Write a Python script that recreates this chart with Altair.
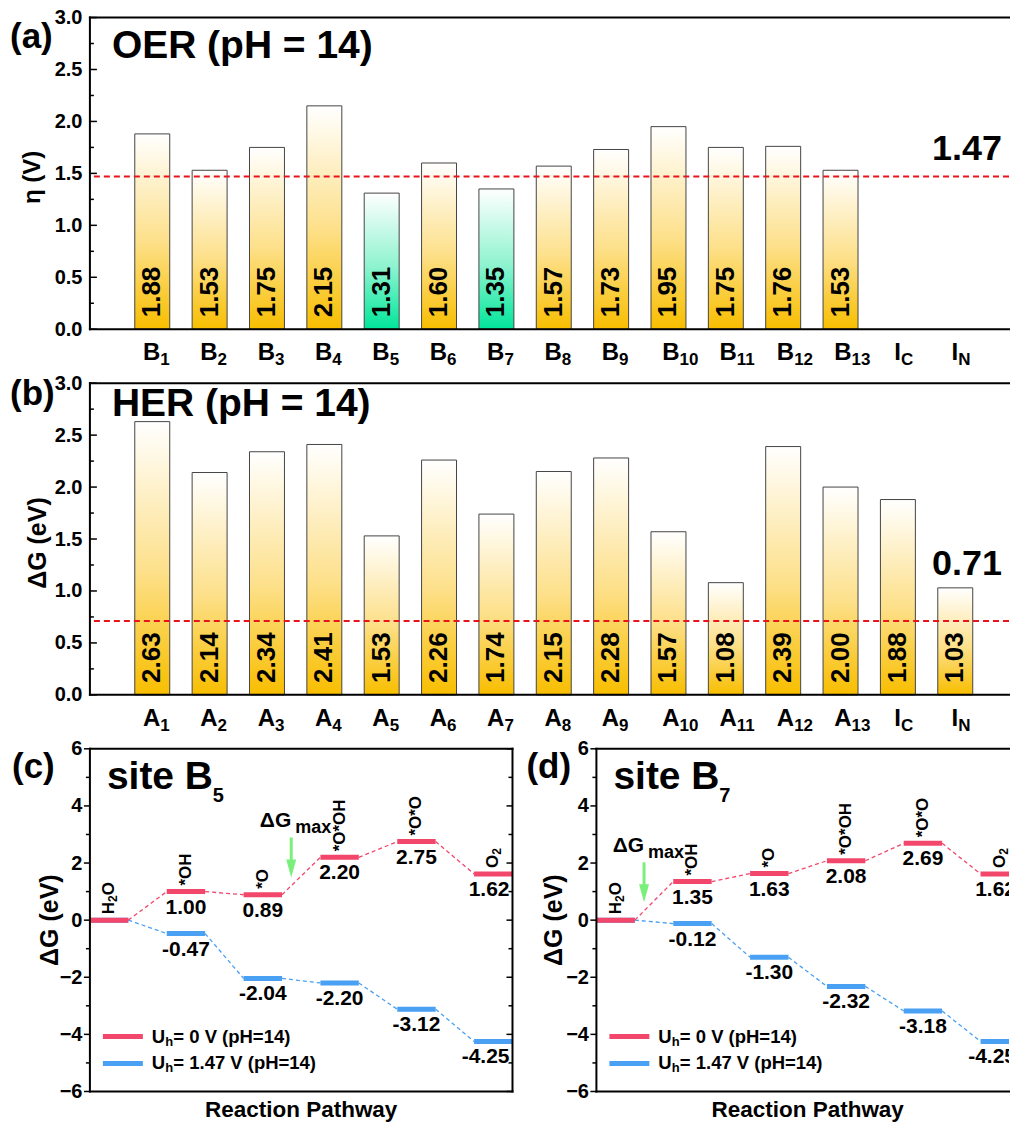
import altair as alt
import pandas as pd

FONT = "Liberation Sans"
BLACK = "#000000"

# ---------------- data ----------------
# (a) OER overpotential on each site, pH = 14
oer_sites = ["B1", "B2", "B3", "B4", "B5", "B6", "B7", "B8", "B9", "B10", "B11", "B12", "B13", "IC", "IN"]
oer_eta = [1.88, 1.53, 1.75, 2.15, 1.31, 1.60, 1.35, 1.57, 1.73, 1.95, 1.75, 1.76, 1.53, None, None]
oer_active = ["B5", "B7"]
oer_limit = 1.47

# (b) HER free energy on each site, pH = 14
her_sites = ["A1", "A2", "A3", "A4", "A5", "A6", "A7", "A8", "A9", "A10", "A11", "A12", "A13", "IC", "IN"]
her_dg = [2.63, 2.14, 2.34, 2.41, 1.53, 2.26, 1.74, 2.15, 2.28, 1.57, 1.08, 2.39, 2.00, 1.88, 1.03]
her_active = []
her_limit = 0.71

# (c), (d) OER free-energy pathways
steps = ["H₂O", "*OH", "*O", "*O*OH", "*O*O", "O₂"]
b5_u0 = [0.00, 1.00, 0.89, 2.20, 2.75, 1.62]
b5_u147 = [0.00, -0.47, -2.04, -2.20, -3.12, -4.25]
b7_u0 = [0.00, 1.35, 1.63, 2.08, 2.69, 1.62]
b7_u147 = [0.00, -0.12, -1.30, -2.32, -3.18, -4.25]
legend_potentials = [0, oer_limit]

# ---------------- styling ----------------
RED_LINE = "#E8141C"
RED = "#F2466B"
BLUE = "#4AA0F2"
GREEN = "#7BEF7B"

# Arial-bold advance widths (em) for the characters used in the pathway labels
ADV = {"H": 0.722, "O": 0.778, "*": 0.389, "2": 0.556}
SUBS = {"₂": "2"}


def vgrad(top, mid, bottom):
    return alt.Gradient(
        gradient="linear", x1=0, x2=0, y1=0, y2=1,
        stops=[alt.GradientStop(color=top, offset=0),
               alt.GradientStop(color=mid, offset=0.55),
               alt.GradientStop(color=bottom, offset=1)])


GOLD = vgrad("#FFFFFF", "#FDE08A", "#F8BE00")
MINT = vgrad("#FFFFFF", "#8CF3CF", "#00E69A")

W_BAR, H_BAR, X_MAX = 920, 312, 15.85
W_C, W_D, H_PATH = 423, 413, 343
STEP_PX = W_C / 5.5
TICK_FS = 20

one = alt.Chart(pd.DataFrame({"k": [0]}))


def txt(text, x, y, size, align="left", baseline="middle", angle=0, weight="bold"):
    kw = dict(text=text, align=align, baseline=baseline, font=FONT, fontSize=size,
              fontWeight=weight, color=BLACK)
    if angle:
        kw["angle"] = angle
    return one.mark_text(**kw).encode(x=alt.value(x), y=alt.value(y))


def hline(x1, x2, y, w=2):
    return one.mark_rule(color=BLACK, strokeWidth=w, strokeCap="square").encode(
        x=alt.value(x1), x2=alt.value(x2), y=alt.value(y))


def vline(x, y1, y2, w=2):
    return one.mark_rule(color=BLACK, strokeWidth=w, strokeCap="square").encode(
        x=alt.value(x), y=alt.value(y1), y2=alt.value(y2))


def split_formula(name):
    """Split a formula into (text, is_subscript) runs."""
    runs = []
    for ch in name:
        sub = ch in SUBS
        c = SUBS.get(ch, ch)
        if runs and runs[-1][1] == sub:
            runs[-1] = (runs[-1][0] + c, sub)
        else:
            runs.append((c, sub))
    return runs


def bar_panel(sites, values, active, limit, tag, tag_y, title, title_y, ytitle, ytitle_x,
              ytitle_size, limit_dy):
    df = pd.DataFrame({
        "pos": list(range(1, len(sites) + 1)),
        "value": values,
        "base": [s[0] for s in sites],
        "sub": [s[1:] for s in sites],
        "hl": [s in active for s in sites],
    })
    df["label"] = [("" if pd.isna(v) else f"{v:.2f}") for v in df["value"]]
    # junction between the letter and its subscript, right of the tick position
    df["shift"] = [3 if b == "I" else (8 if len(s) == 1 else 11) for b, s in zip(df["base"], df["sub"])]

    xs = alt.Scale(domain=[0, X_MAX], nice=False, zero=False)
    ys = alt.Scale(domain=[0, 3], nice=False)
    yax = alt.Axis(values=[0, 0.5, 1.0, 1.5, 2.0, 2.5, 3.0], format=".1f", labelFont=FONT,
                   labelFontSize=TICK_FS, labelFontWeight="bold", labelColor=BLACK, labelPadding=8,
                   domain=False, ticks=False, grid=False, title=None)
    X = alt.X("pos:Q", scale=xs, axis=None)

    base = alt.Chart(df)
    layers = [
        base.transform_filter("!datum.hl").mark_bar(size=35, fill=GOLD, stroke="#444444", strokeWidth=1)
        .encode(x=X, y=alt.Y("value:Q", scale=ys, axis=yax)),
        base.transform_filter("datum.hl").mark_bar(size=35, fill=MINT, stroke="#444444", strokeWidth=1)
        .encode(x=X, y=alt.Y("value:Q", scale=ys, axis=yax)),
        base.transform_filter("datum.label != ''").mark_text(
            angle=270, align="left", baseline="middle", dx=12, font=FONT, fontSize=26,
            fontWeight="bold", color=BLACK).encode(x=X, y=alt.value(H_BAR), text="label:N"),
    ]
    for s in sorted(set(df["shift"])):
        sel = base.transform_filter(f"datum.shift == {int(s)}")
        layers.append(sel.mark_text(align="right", baseline="alphabetic", dx=int(s), font=FONT,
                                    fontSize=24, fontWeight="bold", color=BLACK)
                      .encode(x=X, y=alt.value(H_BAR + 31), text="base:N"))
        layers.append(sel.mark_text(align="left", baseline="alphabetic", dx=int(s), font=FONT,
                                    fontSize=17, fontWeight="bold", color=BLACK)
                      .encode(x=X, y=alt.value(H_BAR + 36), text="sub:N"))

    # inward ticks
    major = pd.DataFrame({"t": [0, 0.5, 1.0, 1.5, 2.0, 2.5, 3.0]})
    minor = pd.DataFrame({"t": [0.25, 0.75, 1.25, 1.75, 2.25, 2.75]})
    for tdf, ln in ((major, 7), (minor, 4)):
        layers.append(alt.Chart(tdf).mark_rule(color=BLACK, strokeWidth=1.5).encode(
            y=alt.Y("t:Q", scale=ys, axis=yax), x=alt.value(0), x2=alt.value(ln)))

    lim = pd.DataFrame({"v": [limit], "lab": [f"{limit:.2f}"]})
    layers.append(alt.Chart(lim).mark_rule(color=RED_LINE, strokeWidth=2, strokeDash=[6, 4])
                  .encode(y=alt.Y("v:Q", scale=ys, axis=yax)))
    layers.append(alt.Chart(lim).mark_text(align="right", baseline="middle", dy=limit_dy, font=FONT,
                                           fontSize=36, fontWeight="bold", color=BLACK)
                  .encode(x=alt.value(W_BAR - 7), y=alt.Y("v:Q", scale=ys, axis=yax), text="lab:N"))

    layers += [
        vline(0, 0, H_BAR), hline(0, W_BAR, 0), hline(0, W_BAR, H_BAR),
        txt(tag, -80, tag_y, 35),
        txt(title, 22, title_y, 39, baseline="alphabetic"),
        txt(ytitle, ytitle_x, 160, ytitle_size, align="center", angle=270),
    ]
    return alt.layer(*layers).properties(width=W_BAR, height=H_BAR)


def path_panel(tag, tag_x, site_no, u0, u1, width, right_frame, ytitle_x):
    xs = alt.Scale(domain=[0, width / STEP_PX], nice=False, zero=False)
    ys = alt.Scale(domain=[-6, 6], nice=False, zero=False)
    yax = alt.Axis(values=list(range(-6, 7, 2)), format="d", labelFont=FONT, labelFontSize=TICK_FS,
                   labelFontWeight="bold", labelColor=BLACK, labelPadding=8, domain=False,
                   ticks=False, grid=False, title=None)

    def X(f):
        return alt.X(f, type="quantitative", scale=xs, axis=None)

    def Y(f):
        return alt.Y(f, type="quantitative", scale=ys, axis=yax)

    layers = []
    # dashed connectors between successive intermediates
    for vals, color in ((u1, BLUE), (u0, RED)):
        seg = pd.DataFrame({"a": [i + 0.5 for i in range(5)], "b": [i + 1 for i in range(5)],
                            "v0": vals[:-1], "v1": vals[1:]})
        layers.append(alt.Chart(seg).mark_rule(color=color, strokeWidth=1.3, strokeDash=[4, 3], clip=True)
                      .encode(x=X("a"), x2=alt.X2("b"), y=Y("v0"), y2=alt.Y2("v1")))
    # energy levels
    for vals, color in ((u1, BLUE), (u0, RED)):
        lv = pd.DataFrame({"a": list(range(6)), "b": [i + 0.5 for i in range(6)], "v": vals})
        layers.append(alt.Chart(lv).mark_rule(color=color, strokeWidth=5, clip=True)
                      .encode(x=X("a"), x2=alt.X2("b"), y=Y("v")))
    # energy values under each level (the last column is right-aligned to the level end)
    for vals in (u0, u1):
        lab = pd.DataFrame({"c": [i + 0.25 for i in range(1, 5)], "v": vals[1:5],
                            "t": [f"{v:.2f}" for v in vals[1:5]]})
        layers.append(alt.Chart(lab).mark_text(baseline="top", dy=5, font=FONT, fontSize=21,
                                               fontWeight="bold", color=BLACK, clip=True)
                      .encode(x=X("c"), y=Y("v"), text="t:N"))
        last = pd.DataFrame({"c": [5.5], "v": [vals[5]], "t": [f"{vals[5]:.2f}"]})
        layers.append(alt.Chart(last).mark_text(align="right", baseline="top", dx=-3, dy=5, font=FONT,
                                                fontSize=21, fontWeight="bold", color=BLACK, clip=True)
                      .encode(x=X("c"), y=Y("v"), text="t:N"))
    # intermediate names above the U = 0 levels, written upward with real subscripts
    for i, name in enumerate(steps):
        row = pd.DataFrame({"c": [i + 0.25], "v": [u0[i]]})
        offset = 6.0
        for run, sub in split_formula(name):
            fs = 12 if sub else 17
            layers.append(alt.Chart(row).mark_text(
                text=run, angle=270, align="left", baseline="middle", dx=offset, dy=4 if sub else 0,
                font=FONT, fontSize=fs, fontWeight="bold", color=BLACK, clip=True)
                .encode(x=X("c"), y=Y("v")))
            offset += sum(ADV.get(ch, 0.6) for ch in run) * fs

    # potential-determining step marker
    diffs = [b - a for a, b in zip(u0[:-1], u0[1:])]
    k = diffs.index(max(diffs))
    tip = (u0[k] + u0[k + 1]) / 2 - 0.05
    arr = pd.DataFrame({"x": [k + 0.62], "top": [tip + 1.4], "tip": [tip], "neck": [tip + 0.4]})
    layers += [
        alt.Chart(arr).mark_rule(color=GREEN, strokeWidth=3).encode(x=X("x"), y=Y("top"), y2=alt.Y2("neck")),
        alt.Chart(arr).mark_point(shape="M-0.5,-1.8L0.5,-1.8L0,0Z", size=400, filled=True, fill=GREEN,
                                  strokeWidth=0, opacity=1).encode(x=X("x"), y=Y("tip")),
        alt.Chart(arr).mark_text(text="ΔG", align="right", baseline="alphabetic", dx=0, dy=-10, font=FONT,
                                 fontSize=21, fontWeight="bold", color=BLACK).encode(x=X("x"), y=Y("top")),
        alt.Chart(arr).mark_text(text="max", align="left", baseline="alphabetic", dx=4, dy=-4, font=FONT,
                                 fontSize=18, fontWeight="bold", color=BLACK).encode(x=X("x"), y=Y("top")),
    ]

    # ticks: outward on the left, inward on the right
    major = pd.DataFrame({"t": list(range(-6, 7, 2))})
    minor = pd.DataFrame({"t": list(range(-5, 6, 2))})
    for tdf, ln in ((major, 6), (minor, 4)):
        layers.append(alt.Chart(tdf).mark_rule(color=BLACK, strokeWidth=1.5).encode(
            y=Y("t"), x=alt.value(-ln), x2=alt.value(0)))
        if right_frame:
            layers.append(alt.Chart(tdf).mark_rule(color=BLACK, strokeWidth=1.5).encode(
                y=Y("t"), x=alt.value(width - ln), x2=alt.value(width)))

    # legend
    for i, (pot, color) in enumerate(zip(legend_potentials, (RED, BLUE))):
        ly = 288 + 27 * i
        layers += [
            one.mark_rule(color=color, strokeWidth=5).encode(x=alt.value(13), x2=alt.value(53), y=alt.value(ly)),
            txt("U", 62, ly, 18.5),
            txt("h", 75.5, ly + 5, 13),
            txt(f"= {pot:g} V (pH=14)", 83.5, ly, 18.5),
        ]

    layers += [
        vline(0, 0, H_PATH), hline(0, width, 0), hline(0, width, H_PATH),
        txt(tag, tag_x, 18, 35),
        txt("site B", 17, 40, 39, baseline="alphabetic"),
        txt(site_no, 123, 53, 20, baseline="alphabetic"),
        txt("ΔG (eV)", ytitle_x, H_PATH / 2, 25, align="center", angle=270),
        txt("Reaction Pathway", W_C / 2, H_PATH + 19, 22.5, align="center"),
    ]
    if right_frame:
        layers.append(vline(width, 0, H_PATH))
    return alt.layer(*layers).properties(width=width, height=H_PATH)


panel_a = bar_panel(oer_sites, oer_eta, oer_active, oer_limit, "(a)", 19, "OER (pH = 14)", 41,
                    "η (V)", -57, 24, -28)
panel_b = bar_panel(her_sites, her_dg, her_active, her_limit, "(b)", 11, "HER (pH = 14)", 33,
                    "ΔG (eV)", -52, 25, -57)
panel_c = path_panel("(c)", -78, "5", b5_u0, b5_u147, W_C, True, -40)
panel_d = path_panel("(d)", -70, "7", b7_u0, b7_u147, W_D, False, -42)

chart = alt.vconcat(
    panel_a,
    panel_b,
    alt.hconcat(panel_c, panel_d, spacing=84, bounds="flush"),
    spacing=54,
    bounds="flush",
).properties(
    padding={"left": 10, "top": 7, "right": 0, "bottom": 0},
    background="white",
).configure_view(stroke=None)

chart.save("out.html", embed_options={"renderer": "svg", "actions": False})
